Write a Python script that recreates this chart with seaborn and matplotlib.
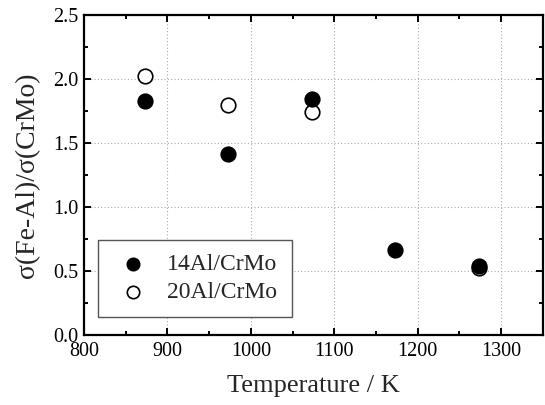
import pandas as pd
import matplotlib.pyplot as plt
import seaborn as sns
from matplotlib.ticker import MultipleLocator

# Data
temp_14 = [873, 973, 1073, 1173, 1273]
ratio_14 = [1.83, 1.41, 1.84, 0.66, 0.54]
temp_20 = [873, 973, 1073, 1273]
ratio_20 = [2.02, 1.80, 1.74, 0.52]

df14 = pd.DataFrame({'T': temp_14, 'ratio': ratio_14})
df20 = pd.DataFrame({'T': temp_20, 'ratio': ratio_20})

sns.set_style('ticks')
plt.rcParams['font.family'] = ['Liberation Serif', 'DejaVu Serif']

fig = plt.figure(figsize=(5.45, 4.05), dpi=100)
ax = fig.add_axes([0.154, 0.173, 0.842, 0.79])

# open symbols first, filled ones on top
sns.scatterplot(data=df20, x='T', y='ratio', ax=ax, marker='o', s=110,
                facecolor='white', edgecolor='black', linewidth=1.2,
                label='20Al/CrMo', zorder=3)
sns.scatterplot(data=df14, x='T', y='ratio', ax=ax, marker='o', s=110,
                color='black', edgecolor='black', linewidth=1.2,
                label='14Al/CrMo', zorder=4)

ax.set_xlim(800, 1350)
ax.set_ylim(0, 2.5)
ax.xaxis.set_major_locator(MultipleLocator(100))
ax.xaxis.set_minor_locator(MultipleLocator(50))
ax.yaxis.set_major_locator(MultipleLocator(0.5))
ax.yaxis.set_minor_locator(MultipleLocator(0.25))
ax.yaxis.set_major_formatter(plt.FuncFormatter(lambda v, p: f'{v:.1f}'))

ax.grid(True, which='major', linestyle=(0, (1, 2)), color='#aaaaaa', linewidth=0.8)
ax.set_axisbelow(True)
for sp in ax.spines.values():
    sp.set_linewidth(1.6)
    sp.set_color('black')
ax.tick_params(which='both', direction='in', top=True, right=True,
               labelsize=14.5, width=1.4, colors='black')
ax.tick_params(axis='x', pad=5)
ax.tick_params(axis='y', pad=4)
ax.tick_params(which='major', length=5)
ax.tick_params(which='minor', length=3)

ax.set_xlabel('Temperature / K', fontsize=19, labelpad=10)
ax.set_ylabel('σ(Fe-Al)/σ(CrMo)', fontsize=20, labelpad=9)

handles, labels = ax.get_legend_handles_labels()
leg = ax.legend(handles[::-1], labels[::-1], loc='lower left',
                bbox_to_anchor=(0.03, 0.056), fontsize=17, frameon=True,
                fancybox=False, edgecolor='#555555', framealpha=1,
                handlelength=1.8, handletextpad=0.55, borderpad=0.6,
                labelspacing=0.25, borderaxespad=0, markerscale=0.85)
leg.get_frame().set_linewidth(1.0)

fig.savefig('out.png', dpi=100)
